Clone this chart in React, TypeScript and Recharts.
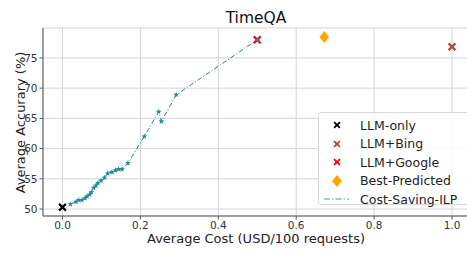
import React from 'react';
import { ComposedChart, Line, Scatter, XAxis, YAxis, CartesianGrid } from 'recharts';

// Cost-Saving-ILP frontier (cost, accuracy)
const ilpCost = [0.020, 0.035, 0.042, 0.050, 0.058, 0.063, 0.070, 0.074, 0.080, 0.086, 0.091, 0.099, 0.108, 0.116, 0.127, 0.136, 0.144, 0.153, 0.168, 0.210, 0.247, 0.254, 0.292, 0.500];
const ilpAcc = [50.8, 51.2, 51.5, 51.5, 51.8, 52.1, 52.4, 52.8, 53.5, 53.9, 54.3, 54.7, 55.2, 55.9, 56.1, 56.4, 56.6, 56.6, 57.6, 62.0, 66.1, 64.5, 68.9, 78.0];

const llmOnly = [{ cost: 0.0, acc: 50.3 }];
const llmBing = [{ cost: 1.0, acc: 76.85 }];
const llmGoogle = [{ cost: 0.5, acc: 78.0 }];
const bestPredicted = [{ cost: 0.672, acc: 78.45 }];

const xTicks = [0, 0.2, 0.4, 0.6, 0.8, 1.0];
const yTicks = [50, 55, 60, 65, 70, 75];

const ilpData = ilpCost.map((c, i) => ({ cost: c, acc: ilpAcc[i] }));

const FONT = '"DejaVu Sans", sans-serif';
const TEAL = '#1b8a9a';

function xPath(cx: number, cy: number, r: number) {
  const w = r * 0.38;
  const pts = [
    [0, -w], [r - w, -r], [r, -r + w], [w, 0], [r, r - w], [r - w, r],
    [0, w], [-r + w, r], [-r, r - w], [-w, 0], [-r, -r + w], [-r + w, -r],
  ];
  return pts.map((p, i) => (i ? 'L' : 'M') + (cx + p[0]) + ',' + (cy + p[1])).join(' ') + ' Z';
}

const XMark = (color: string) => (props: any) => (
  <path d={xPath(props.cx, props.cy, 4.2)} fill={color} />
);

const Diamond = (props: any) => {
  const { cx, cy } = props;
  const r = 6;
  return <path d={`M${cx},${cy - r} L${cx + r * 0.8},${cy} L${cx},${cy + r} L${cx - r * 0.8},${cy} Z`} fill="#ffa500" />;
};

const Star = (props: any) => {
  const { cx, cy } = props;
  if (cx == null || cy == null) return null;
  const pts: string[] = [];
  for (let i = 0; i < 10; i++) {
    const r = i % 2 === 0 ? 3 : 1.3;
    const a = -Math.PI / 2 + (i * Math.PI) / 5;
    pts.push(`${cx + r * Math.cos(a)},${cy + r * Math.sin(a)}`);
  }
  return <polygon points={pts.join(' ')} fill={TEAL} />;
};

const legendItems = [
  { label: 'LLM-only', kind: 'x', color: '#000000' },
  { label: 'LLM+Bing', kind: 'x', color: '#b5452f' },
  { label: 'LLM+Google', kind: 'x', color: '#ff0000' },
  { label: 'Best-Predicted', kind: 'd', color: '#ffa500' },
  { label: 'Cost-Saving-ILP', kind: 'l', color: '#7fc4cf' },
];

export default function App() {
  return (
    <div style={{ position: 'absolute', left: 0, top: 0, width: 467, height: 253, overflow: 'hidden', background: '#fff', fontFamily: FONT }}>
      <div style={{ position: 'absolute', left: 0, width: 512, top: 9, textAlign: 'center', fontSize: 15.5, color: '#111' }}>TimeQA</div>
      <ComposedChart width={480} height={253} margin={{ top: 28, right: 8.5, bottom: 0, left: 0 }}>
        <CartesianGrid stroke="#d4d4d4" strokeWidth={1} />
        <XAxis
          type="number"
          dataKey="cost"
          domain={[-0.05, 1.05]}
          ticks={xTicks}
          tickFormatter={(v: number) => v.toFixed(1)}
          height={37}
          tick={{ fontSize: 10.5, fill: '#333', fontFamily: FONT }}
          tickSize={3.5}
          axisLine={{ stroke: '#555' }}
          tickLine={{ stroke: '#555' }}
          allowDataOverflow
          label={(p: any) => (
            <text x={256} y={238} textAnchor="middle" dominantBaseline="central" fontSize={13} fill="#222" fontFamily={FONT}>
              Average Cost (USD/100 requests)
            </text>
          )}
        />
        <XAxis xAxisId="top" orientation="top" type="number" domain={[-0.05, 1.05]} height={0} tick={false} tickLine={false} axisLine={{ stroke: '#555' }} />
        <YAxis
          type="number"
          domain={[48.85, 79.95]}
          ticks={yTicks}
          width={43}
          allowDataOverflow
          tick={{ fontSize: 10.5, fill: '#333', fontFamily: FONT }}
          tickSize={3.5}
          axisLine={{ stroke: '#555' }}
          tickLine={{ stroke: '#555' }}
          label={(p: any) => {
            const cx = 20;
            const cy = 122.5;
            return (
              <text x={cx} y={cy} transform={`rotate(-90 ${cx} ${cy})`} textAnchor="middle" dominantBaseline="central" fontSize={13} fill="#222" fontFamily={FONT}>
                Average Accurary (%)
              </text>
            );
          }}
        />
        <Scatter data={llmOnly} dataKey="acc" shape={XMark('#000000')} isAnimationActive={false} />
        <Scatter data={llmBing} dataKey="acc" shape={XMark('#b5452f')} isAnimationActive={false} />
        <Scatter data={llmGoogle} dataKey="acc" shape={XMark('#ff0000')} isAnimationActive={false} />
        <Scatter data={bestPredicted} dataKey="acc" shape={Diamond} isAnimationActive={false} />
        <Line
          data={ilpData}
          dataKey="acc"
          type="linear"
          stroke={TEAL}
          strokeWidth={1}
          strokeDasharray="5 2 1 2"
          dot={<Star />}
          activeDot={false}
          isAnimationActive={false}
        />
      </ComposedChart>
      <div style={{ position: 'absolute', left: 318, top: 112, width: 160, height: 93, background: 'rgba(255,255,255,0.85)', border: '1px solid #d8d8d8', borderRadius: 3, boxSizing: 'border-box' }}>
        {legendItems.map((it, i) => (
          <div key={it.label} style={{ position: 'absolute', left: 0, top: 3 + i * 18.5, height: 18, display: 'flex', alignItems: 'center' }}>
            <svg width={36} height={18} style={{ display: 'block' }}>
              {it.kind === 'x' && <path d={xPath(18, 9, 3.6)} fill={it.color} />}
              {it.kind === 'd' && <path d="M18,3 L23,9 L18,15 L13,9 Z" fill={it.color} />}
              {it.kind === 'l' && <line x1={5} x2={30} y1={9} y2={9} stroke={it.color} strokeWidth={1.6} strokeDasharray="6 2 1.5 2" />}
            </svg>
            <span style={{ marginLeft: 5, fontSize: 12.5, color: '#222', whiteSpace: 'nowrap' }}>{it.label}</span>
          </div>
        ))}
      </div>
    </div>
  );
}
